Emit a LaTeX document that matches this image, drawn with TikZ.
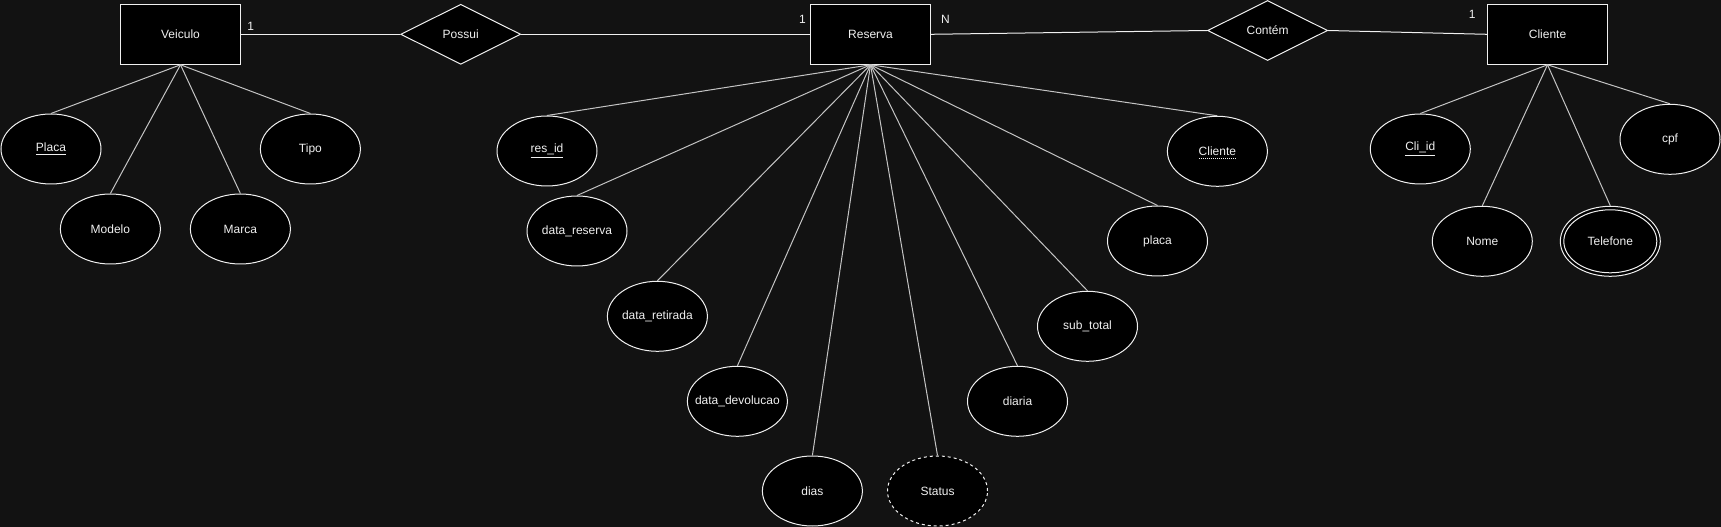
\documentclass[tikz,border=0pt]{standalone}
\usepackage{fontspec}
\setmainfont{Liberation Sans}
\usetikzlibrary{shapes.geometric}
\definecolor{bgc}{HTML}{121212}
\definecolor{fg}{HTML}{F0F0F0}
\definecolor{txt}{HTML}{F0F0F0}
\definecolor{attrline}{HTML}{C4C4C4}
\newcommand{\mb}[1]{\makebox[0pt]{#1}}
\tikzset{
  base/.style={draw=fg, line width=0.75pt, fill=black, text=txt, font=\fontsize{9pt}{10pt}\selectfont, inner sep=0pt},
  entity/.style={base, rectangle, minimum width=90pt, minimum height=45pt},
  rel/.style={base, diamond, minimum width=90pt, minimum height=45pt},
  attr/.style={base, ellipse, minimum width=75pt, minimum height=52.5pt},
  conn/.style={draw=fg, line width=0.75pt},
  aconn/.style={draw=attrline, line width=0.75pt},
  card/.style={text=txt, font=\fontsize{9pt}{10pt}\selectfont, inner sep=0pt}
}
\begin{document}
\begin{tikzpicture}[x=0.75pt,y=-0.75pt]
\fill[bgc] (0,0) rectangle (1721,527);
\useasboundingbox (0,0) rectangle (1721,527);

% attribute connectors drawn first (behind shapes)
\coordinate (vs) at (180.5,64.3);
\coordinate (rs) at (870.5,64.3);
\coordinate (cs) at (1547.5,64.3);

% entities and relationships
\node[entity] (veiculo) at (180.5,34.3) {Veiculo};
\node[rel] (possui) at (460.7,34.3) {Possui};
\node[entity] (reserva) at (870.5,34.3) {Reserva};
\node[rel] (contem) at (1267.6,30.5) {Contém};
\node[entity] (cliente) at (1547.5,34.3) {Cliente};

% cardinalities
\node[card] (c1) at (250.7,26.7) {1};
\node[card] (c2) at (802.5,19) {1};
\node[card] (c3) at (945.4,19) {N};
\node[card] (c4) at (1472.3,14.7) {1};

% relationship connectors
\draw[conn] (veiculo.east) -- (possui.west);
\draw[conn] (possui.east) -- (reserva.west);
\draw[conn] (reserva.east) -- (contem.west);
\draw[conn] (contem.east) -- (cliente.west);

% Veiculo attributes
\node[attr] (placa) at (51,149) {\mb{\underline{Placa}}};
\node[attr] (tipo) at (310.4,149) {\mb{Tipo}};
\node[attr] (modelo) at (110.4,229) {\mb{Modelo}};
\node[attr] (marca) at (240.4,229) {\mb{Marca}};
\foreach \a in {placa,tipo,modelo,marca} \draw[aconn] (veiculo.south) -- (\a.north);

% Reserva attributes
\node[attr] (resid) at (547,151) {\mb{\underline{res\_id}}};
\node[attr] (datares) at (577,231) {\mb{data\_reserva}};
\node[attr] (dataret) at (657.4,316.3) {\mb{data\_retirada}};
\node[attr] (datadev) at (737.4,401.3) {\mb{data\_devolucao}};
\node[attr] (dias) at (812.4,491) {\mb{dias}};
\node[attr, dash pattern=on 2.25pt off 2.25pt] (status) at (937.5,491) {\mb{Status}};
\node[attr] (diaria) at (1017.5,401.3) {\mb{diaria}};
\node[attr] (subtotal) at (1087.5,326.3) {\mb{sub\_total}};
\node[attr] (placar) at (1157.5,241) {\mb{placa}};
\node[attr] (clientea) at (1217.4,151.3) {\mb{Cliente}};
\draw[draw=fg, line width=0.75pt, dash pattern=on 0.75pt off 0.75pt] ([shift={(-18.5,7)}]clientea.center) -- ++(37,0);
\foreach \a in {resid,datares,dataret,datadev,dias,status,diaria,subtotal,placar,clientea} \draw[aconn] (reserva.south) -- (\a.north);

% Cliente attributes
\node[attr] (cliid) at (1420.3,149) {\mb{\underline{Cli\_id}}};
\node[attr] (cpf) at (1670,139.3) {\mb{cpf}};
\node[attr] (nome) at (1482.3,241.3) {\mb{Nome}};
\node[attr] (telefone) at (1610.3,241.3) {\mb{Telefone}};
\draw[conn] (telefone.center) ellipse [x radius=46.5, y radius=31.5];
\foreach \a in {cliid,cpf,nome,telefone} \draw[aconn] (cliente.south) -- (\a.north);
\end{tikzpicture}
\end{document}
